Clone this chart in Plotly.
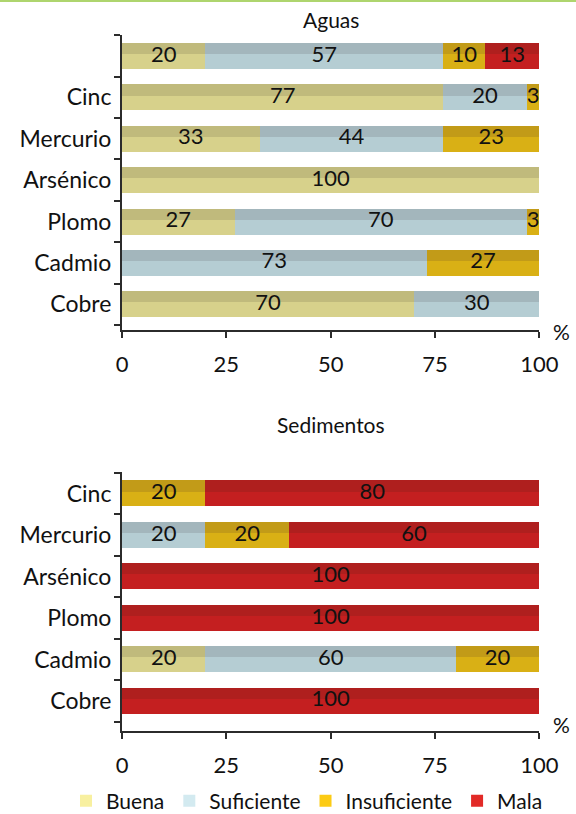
import plotly.graph_objects as go

# ---------------- data ----------------
series_names = ["Buena", "Suficiente", "Insuficiente", "Mala"]

aguas_cats = [" ", "Cinc", "Mercurio", "Arsénico", "Plomo", "Cadmio", "Cobre"]
aguas_buena = [20, 77, 33, 100, 27, 0, 70]
aguas_suficiente = [57, 20, 44, 0, 70, 73, 30]
aguas_insuficiente = [10, 3, 23, 0, 3, 27, 0]
aguas_mala = [13, 0, 0, 0, 0, 0, 0]

sed_cats = ["Cinc", "Mercurio", "Arsénico", "Plomo", "Cadmio", "Cobre"]
sed_buena = [0, 0, 0, 0, 20, 0]
sed_suficiente = [0, 20, 0, 0, 60, 0]
sed_insuficiente = [20, 20, 0, 0, 20, 0]
sed_mala = [80, 60, 100, 100, 0, 100]

x_ticks = [0, 25, 50, 75, 100]

# ---------------- styles ----------------
light_colors = ["#d7d18b", "#b5cdd3", "#d9b015", "#c41f20"]
dark_colors = ["#c0ba7c", "#a3b6bc", "#c29b18", "#af1f1e"]
legend_colors = ["#f8f0a0", "#d3eaf0", "#fccb14", "#e22a27"]
FONT = "Lato"
AXIS_COLOR = "#2b2b2b"

BAR_W = 0.63
DARK_W = 0.27

fig = go.Figure()


def add_panel(cats, series, xa, ya):
    base = [0] * len(cats)
    for i, vals in enumerate(series):
        fig.add_trace(go.Bar(
            y=cats, x=vals, base=base, orientation="h",
            width=BAR_W, offset=-BAR_W / 2,
            marker=dict(color=light_colors[i], line=dict(width=0)),
            showlegend=False, hoverinfo="skip", xaxis=xa, yaxis=ya))
        fig.add_trace(go.Bar(
            y=cats, x=vals, base=base, orientation="h",
            width=DARK_W, offset=BAR_W / 2 - DARK_W,
            marker=dict(color=dark_colors[i], line=dict(width=0)),
            showlegend=False, hoverinfo="skip", xaxis=xa, yaxis=ya))
        tx, ty, tt = [], [], []
        for c, b, v in zip(cats, base, vals):
            if v > 0:
                tx.append(b + v / 2)
                ty.append(c)
                tt.append(str(v))
        fig.add_trace(go.Scatter(
            x=tx, y=ty, text=tt, mode="text", textposition="middle center",
            textfont=dict(family=FONT, size=22, color="#111"),
            showlegend=False, hoverinfo="skip", xaxis=xa, yaxis=ya))
        base = [b + v for b, v in zip(base, vals)]


add_panel(aguas_cats, [aguas_buena, aguas_suficiente, aguas_insuficiente, aguas_mala], "x", "y")
add_panel(sed_cats, [sed_buena, sed_suficiente, sed_insuficiente, sed_mala], "x2", "y2")

# legend entries
for name, col in zip(series_names, legend_colors):
    fig.add_trace(go.Bar(x=[None], y=[None], name=name, orientation="h",
                         marker=dict(color=col, line=dict(width=0)),
                         xaxis="x2", yaxis="y2"))

W, H = 576, 814
x_dom = [122 / W, 539.3 / W]

xcommon = dict(range=[0, 100], tickvals=x_ticks, ticks="outside", ticklen=6,
               tickwidth=1.5, tickcolor=AXIS_COLOR, showline=True,
               linecolor=AXIS_COLOR, linewidth=2, showgrid=False, zeroline=False,
               tickfont=dict(family=FONT, size=22, color="#111"),
               ticklabelstandoff=8, domain=x_dom, fixedrange=True, automargin=False)
ycommon = dict(type="category", categoryorder="array", ticks="outside",
               tickson="boundaries", ticklen=6, tickwidth=1.5, tickcolor=AXIS_COLOR,
               showline=True, linecolor=AXIS_COLOR, linewidth=2, showgrid=False,
               zeroline=False, tickfont=dict(family=FONT, size=23, color="#111"),
               ticklabelstandoff=4, fixedrange=True, automargin=False)

fig.update_layout(
    width=W, height=H,
    margin=dict(l=0, r=0, t=0, b=0, autoexpand=False),
    paper_bgcolor="white", plot_bgcolor="white",
    barmode="overlay", bargap=0,
    font=dict(family=FONT, color="#111"),
    xaxis=dict(anchor="y", **xcommon),
    yaxis=dict(anchor="x", domain=[1 - 330 / H, 1 - 35 / H],
               categoryarray=list(reversed(aguas_cats)),
               range=[-0.62, len(aguas_cats) - 0.493], **ycommon),
    xaxis2=dict(anchor="y2", **xcommon),
    yaxis2=dict(anchor="x2", domain=[1 - 730.7 / H, 1 - 472.3 / H],
                categoryarray=list(reversed(sed_cats)),
                range=[-0.72, len(sed_cats) - 0.483], **ycommon),
    legend=dict(orientation="h", x=66 / W, xanchor="left", y=1 - 801 / H,
                yanchor="middle", font=dict(family=FONT, size=21, color="#111"),
                bgcolor="rgba(0,0,0,0)", itemclick=False, itemdoubleclick=False),
    showlegend=True,
    annotations=[
        dict(text="Aguas", x=0.5, xref="x domain", y=1 - 20 / H, yref="paper",
             showarrow=False, font=dict(family=FONT, size=21, color="#111"),
             xanchor="center", yanchor="middle"),
        dict(text="Sedimentos", x=0.5, xref="x2 domain", y=1 - 424 / H, yref="paper",
             showarrow=False, font=dict(family=FONT, size=21, color="#111"),
             xanchor="center", yanchor="middle"),
        dict(text="%", x=561 / W, xref="paper", y=1 - 331 / H, yref="paper",
             showarrow=False, font=dict(family=FONT, size=21, color="#111"),
             xanchor="center", yanchor="middle"),
        dict(text="%", x=561 / W, xref="paper", y=1 - 724 / H, yref="paper",
             showarrow=False, font=dict(family=FONT, size=21, color="#111"),
             xanchor="center", yanchor="middle"),
    ],
    shapes=[dict(type="line", xref="paper", yref="paper", x0=0, x1=1,
                 y0=1 - 1 / H, y1=1 - 1 / H, line=dict(color="#aed56e", width=2))],
)

fig.write_html(
    "out.html",
    config={"displayModeBar": False, "staticPlot": False},
    post_script="document.body.style.margin='0';document.body.style.padding='0';"
                "document.body.style.overflow='hidden';",
)
